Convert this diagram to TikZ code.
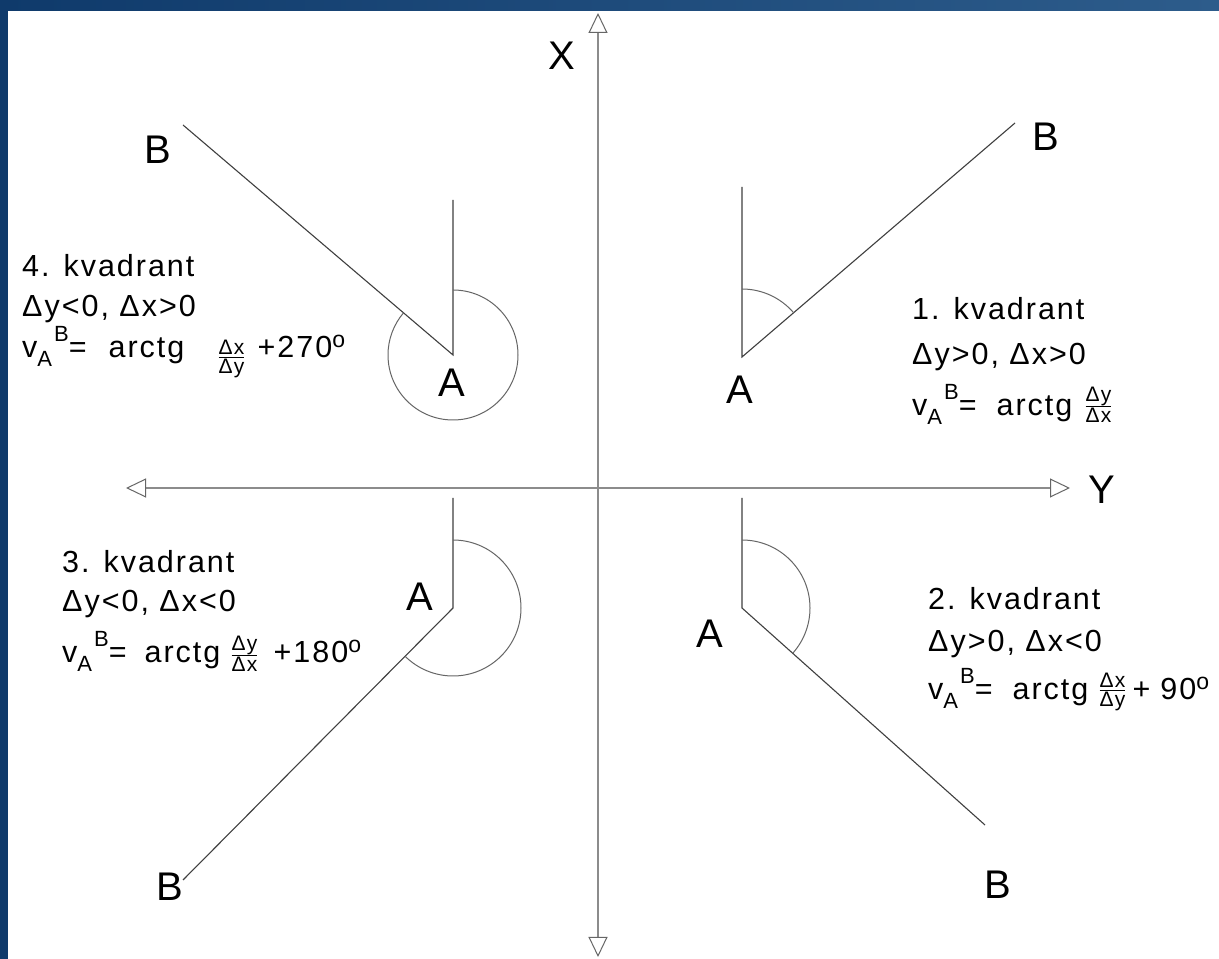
\documentclass[tikz,border=0pt]{standalone}
\usepackage{amsmath}
\usepackage{fontspec}
\setmainfont{Liberation Sans}
\newfontfamily\qfont[LetterSpace=6.5]{Liberation Sans}
\usetikzlibrary{arrows.meta,calc}
\definecolor{frameL}{HTML}{0F3A6B}
\definecolor{frameR}{HTML}{2D5C8B}
\newcommand\qtxt{\fontsize{30.5}{32}\qfont}
\newcommand\smtxt[1]{{\fontsize{22}{22}\selectfont #1}}
\newcommand\vAB{v\raisebox{-9pt}{\smtxt{A}}\kern2pt\raisebox{16pt}{\smtxt{B}}=}
\newcommand\qfr[3]{\raisebox{#1}{$\genfrac{}{}{0.7pt}{1}{\mbox{\fontsize{21}{21}\selectfont #2}}{\mbox{\fontsize{21}{21}\selectfont #3}}$}}
\newcommand\dego{\raisebox{10pt}{\fontsize{23}{23}\selectfont o}}
\tikzset{
  lbl/.style={font=\fontsize{40}{40}\selectfont, inner sep=0pt},
  qt/.style={font=\qtxt, inner sep=0pt, anchor=base west},
  axisline/.style={draw=black!45, line width=1.6pt,
    {Triangle[open,length=20pt,width=19pt,line width=1pt,color=black!60]}-{Triangle[open,length=20pt,width=19pt,line width=1pt,color=black!60]}},
  geo/.style={draw=black!75, line width=1.1pt},
  arcst/.style={draw=black!60, line width=1pt}
}
\begin{document}
\begin{tikzpicture}[x=1pt,y=1pt]
\useasboundingbox (0,0) rectangle (1219,959);
\clip (0,0) rectangle (1219,959);
\fill[white] (0,0) rectangle (1219,959);
\fill[frameL] (0,0) rectangle (8,959);
\shade[left color=frameL, right color=frameR] (0,948) rectangle (1219,959);

% axes
\coordinate (axB) at (598,2);
\coordinate (axT) at (598,946);
\coordinate (axL) at (126,471);
\coordinate (axR) at (1070,471);
\draw[axisline] (axB) -- (axT);
\draw[axisline] (axL) -- (axR);
\node[lbl] (lx) at (562,903) {X};
\node[lbl] (ly) at (1102,469) {Y};

% quadrant 1
\coordinate (v1) at (742,602);
\coordinate (t1) at (742,772);
\coordinate (e1) at (1015,836);
\draw[geo] (t1) -- (v1) -- (e1);
\draw[arcst] ($(v1)+(90:68pt)$) arc[start angle=90, end angle=40.6, radius=68pt];
\node[lbl] (a1) at (740,569) {A};
\node[lbl] (b1) at (1046,822) {B};
\node[qt] (q1a) at (912,639) {1. kvadrant};
\node[qt] (q1b) at (912,594) {Δy>0, Δx>0};
\node[qt] (q1c) at (912,543) {\vAB\hspace{20pt}arctg\hspace{12pt}\qfr{3pt}{Δy}{Δx}};

% quadrant 4
\coordinate (v4) at (453,604);
\coordinate (t4) at (453,759);
\coordinate (e4) at (183,834);
\draw[geo] (t4) -- (v4) -- (e4);
\draw[arcst] ($(v4)+(90:65pt)$) arc[start angle=90, end angle=-220.4, radius=65pt];
\node[lbl] (a4) at (452,576) {A};
\node[lbl] (b4) at (158,809) {B};
\node[qt] (q4a) at (22,682) {4. kvadrant};
\node[qt] (q4b) at (22,642) {Δy<0, Δx>0};
\node[qt] (q4c) at (22,601) {\vAB\hspace{22pt}arctg\hspace{33pt}\qfr{-6pt}{Δx}{Δy}\hspace{12pt}+270\dego};

% quadrant 3
\coordinate (v3) at (453,351);
\coordinate (t3) at (453,461);
\coordinate (e3) at (183,79);
\draw[geo] (t3) -- (v3) -- (e3);
\draw[arcst] ($(v3)+(90:68pt)$) arc[start angle=90, end angle=-134.8, radius=68pt];
\node[lbl] (a3) at (420,362) {A};
\node[lbl] (b3) at (170,72) {B};
\node[qt] (q3a) at (62,386) {3. kvadrant};
\node[qt] (q3b) at (62,347) {Δy<0, Δx<0};
\node[qt] (q3c) at (62,296) {\vAB\hspace{18pt}arctg\hspace{10pt}\qfr{1pt}{Δy}{Δx}\hspace{15pt}+180\dego};

% quadrant 2
\coordinate (v2) at (742,351);
\coordinate (t2) at (742,461);
\coordinate (e2) at (985,134);
\draw[geo] (t2) -- (v2) -- (e2);
\draw[arcst] ($(v2)+(90:68pt)$) arc[start angle=90, end angle=-41.8, radius=68pt];
\node[lbl] (a2) at (710,325) {A};
\node[lbl] (b2) at (998,74) {B};
\node[qt] (q2a) at (928,349) {2. kvadrant};
\node[qt] (q2b) at (928,307) {Δy>0, Δx<0};
\node[qt] (q2c) at (928,259) {\vAB\hspace{20pt}arctg\hspace{10pt}\qfr{3pt}{Δx}{Δy}\hspace{6pt}+\hspace{10pt}90\dego};
\end{tikzpicture}
\end{document}
